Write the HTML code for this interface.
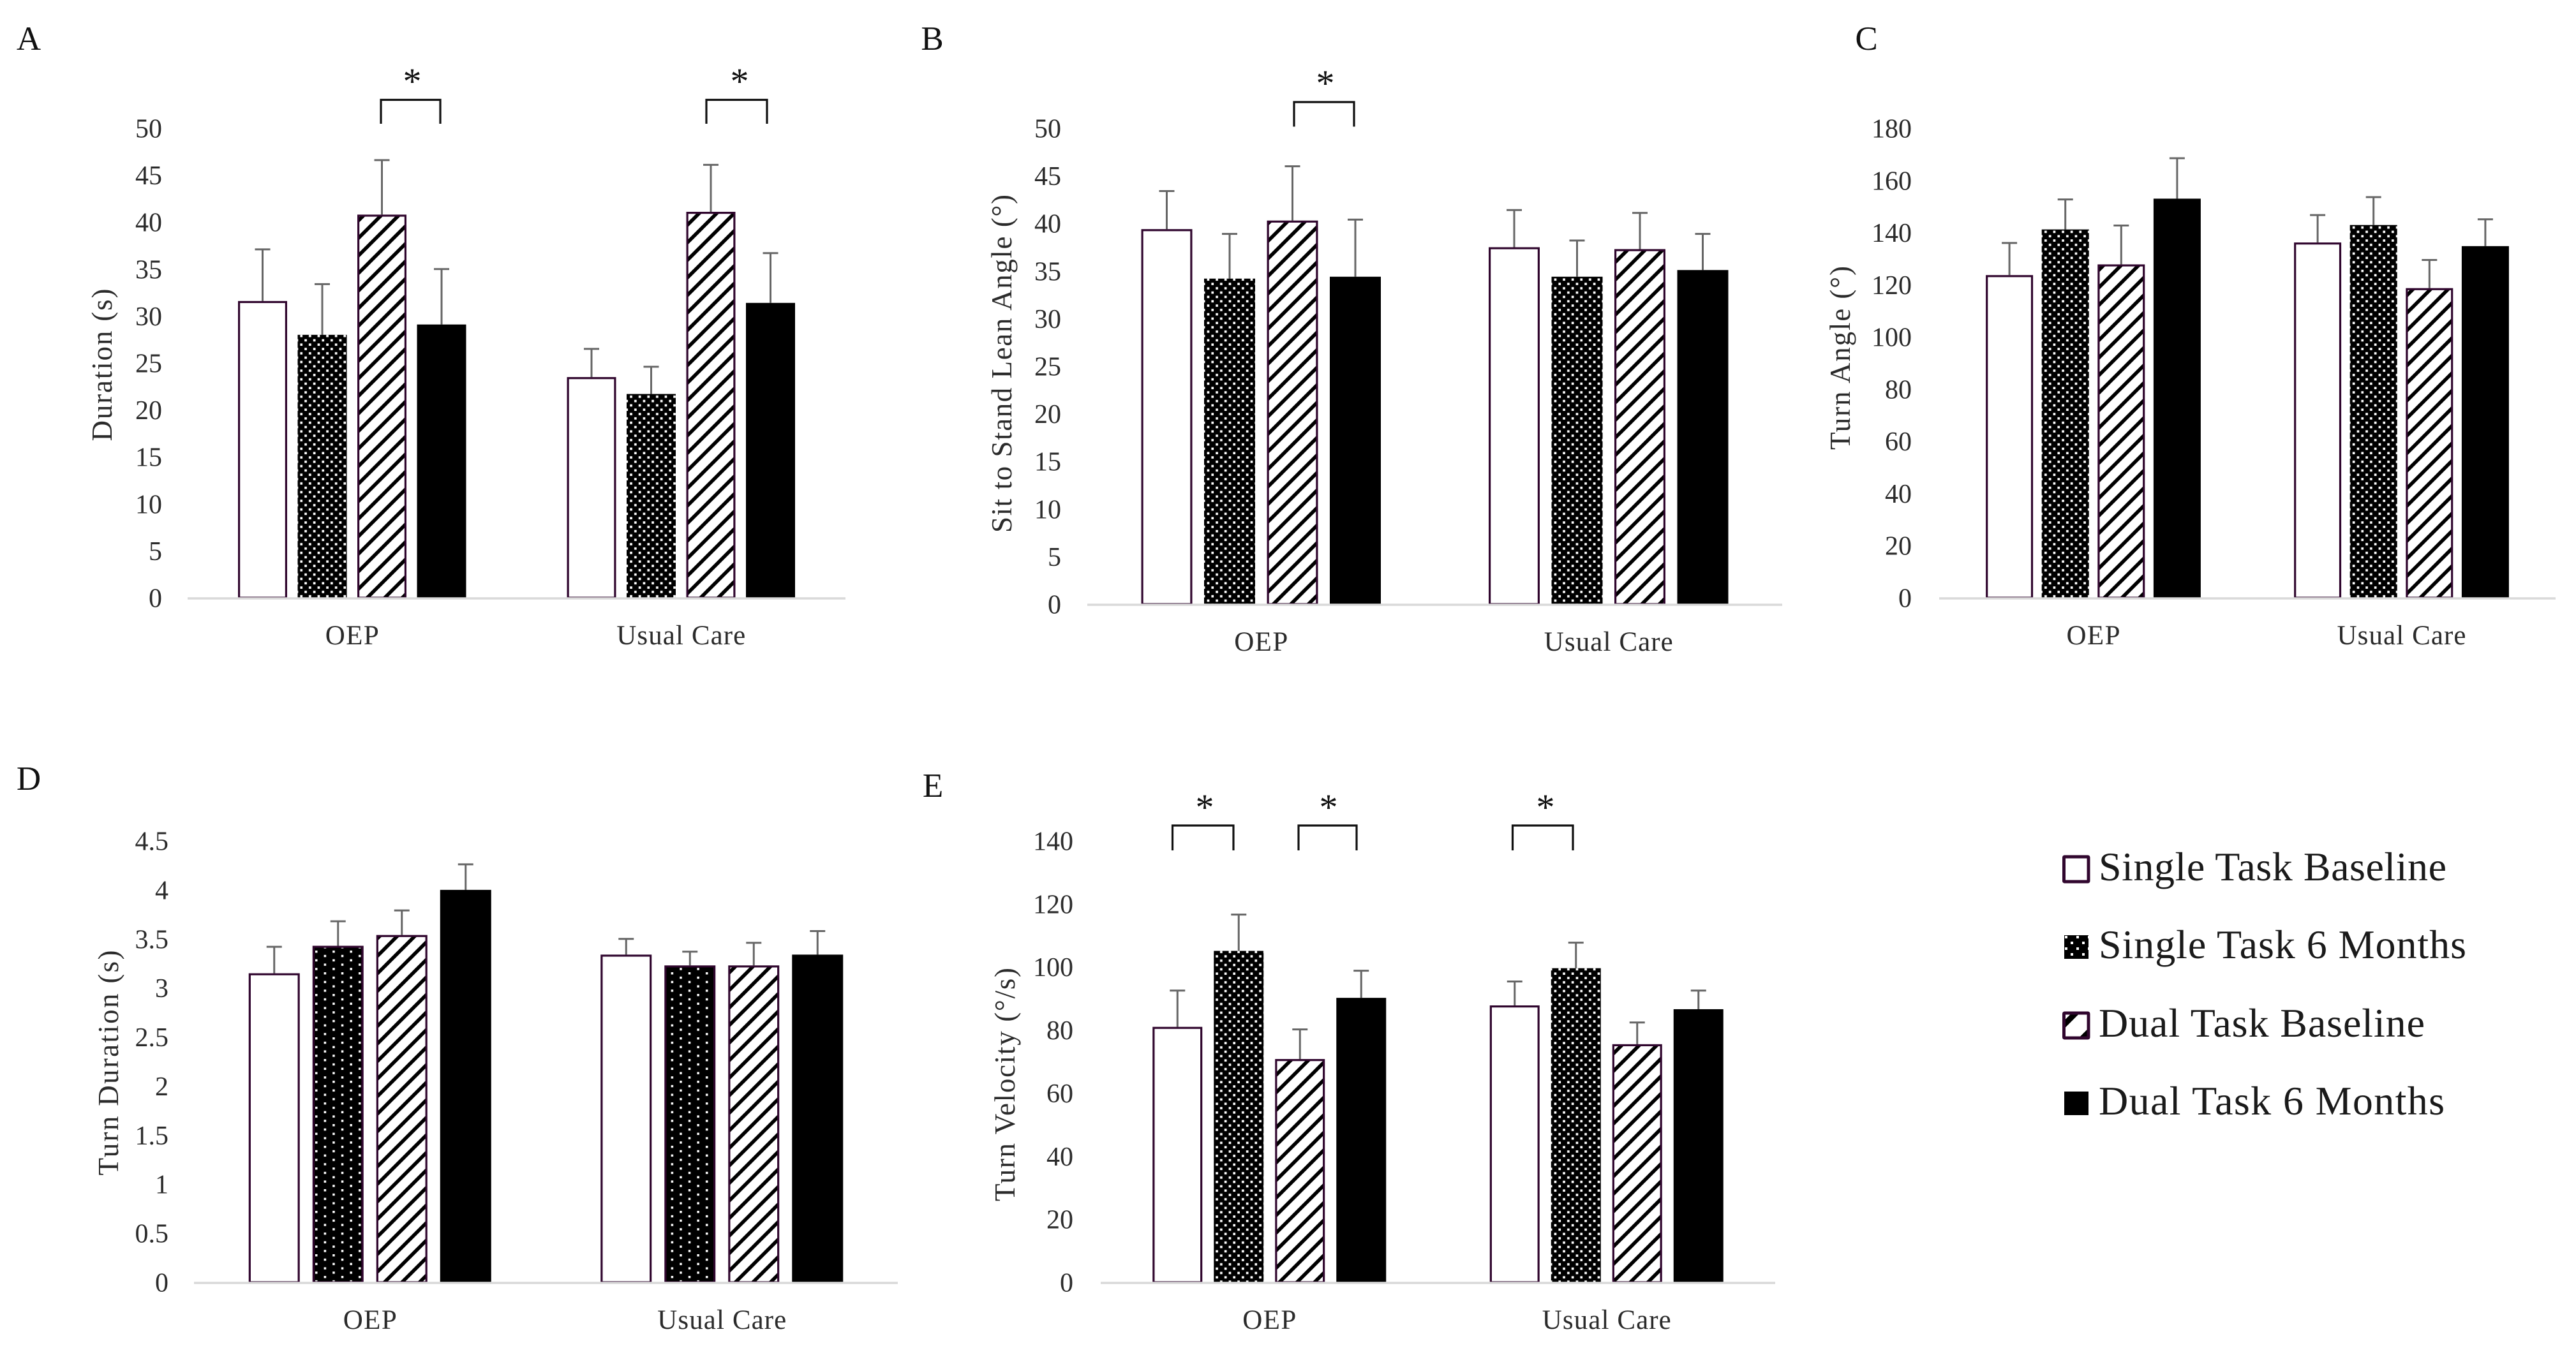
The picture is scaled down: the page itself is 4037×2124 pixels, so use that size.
<!DOCTYPE html>
<html lang="en">
<head>
<meta charset="utf-8">
<title>Single and dual task outcomes: OEP vs Usual Care</title>
<style>
html,body{margin:0;padding:0;background:#fff;}
body{width:4037px;height:2124px;overflow:hidden;}
svg{display:block;}
text{font-family:"Liberation Serif",serif;}
</style>
</head>
<body>
<svg id="figure" xmlns="http://www.w3.org/2000/svg" width="4037" height="2124" viewBox="0 0 4037 2124">
  <defs>
    <pattern id="dots" patternUnits="userSpaceOnUse" width="13.6" height="13.6">
      <rect width="13.6" height="13.6" fill="#000"/>
      <rect x="1.2" y="1.2" width="3.7" height="3.7" fill="#fff"/>
      <rect x="8" y="8" width="3.7" height="3.7" fill="#fff"/>
    </pattern>
    <pattern id="sparseDots" patternUnits="userSpaceOnUse" width="27.2" height="13.6" x="494" y="1490">
      <rect width="27.2" height="13.6" fill="#000"/>
      <rect x="0" y="0" width="3.5" height="3.5" fill="#fff"/>
      <rect x="13.6" y="6.8" width="3.5" height="3.5" fill="#fff"/>
    </pattern>
    <pattern id="hatch" patternUnits="userSpaceOnUse" width="27.5" height="27.5">
      <rect width="27.5" height="27.5" fill="#fff"/>
      <path d="M-7 34.5L34.5 -7M-7 7L7 -7M20.5 34.5L34.5 20.5" stroke="#000" stroke-width="5.6" fill="none"/>
    </pattern>
    <pattern id="legendDots" patternUnits="userSpaceOnUse" width="18" height="18" x="3235" y="1466">
      <rect width="18" height="18" fill="#000"/>
      <rect x="1" y="1" width="4" height="4" fill="#fff"/>
      <rect x="10" y="10" width="4" height="4" fill="#fff"/>
    </pattern>
    <pattern id="legendHatch" patternUnits="userSpaceOnUse" width="40" height="40" x="3234" y="1587">
      <rect width="40" height="40" fill="#fff"/>
      <path d="M-5 25L25 -5M25 45L45 25" stroke="#000" stroke-width="9" fill="none"/>
    </pattern>
  </defs>
</svg>
<script>
const categories = ['OEP', 'Usual Care'];
const seriesNames = ['Single Task Baseline', 'Single Task 6 Months', 'Dual Task Baseline', 'Dual Task 6 Months'];

const durationMeans = [31.6, 28.0, 40.8, 29.1, 23.5, 21.7, 41.1, 31.4];
const durationErrors = [5.5, 5.4, 5.8, 5.9, 3.0, 2.9, 5.0, 5.3];
const durationTicks = ['0', '5', '10', '15', '20', '25', '30', '35', '40', '45', '50'];

const leanMeans = [39.4, 34.2, 40.3, 34.4, 37.5, 34.4, 37.3, 35.1];
const leanErrors = [4.0, 4.7, 5.7, 6.0, 3.9, 3.8, 3.8, 3.8];
const leanTicks = ['0', '5', '10', '15', '20', '25', '30', '35', '40', '45', '50'];

const turnAngleMeans = [123.7, 141.2, 127.8, 153.0, 136.2, 142.9, 118.7, 134.8];
const turnAngleErrors = [12.3, 11.5, 14.9, 15.5, 10.5, 10.7, 10.8, 10.3];
const turnAngleTicks = ['0', '20', '40', '60', '80', '100', '120', '140', '160', '180'];

const turnDurationMeans = [3.15, 3.43, 3.54, 4.0, 3.34, 3.23, 3.23, 3.34];
const turnDurationErrors = [0.27, 0.25, 0.25, 0.26, 0.16, 0.14, 0.23, 0.24];
const turnDurationTicks = ['0', '0.5', '1', '1.5', '2', '2.5', '3', '3.5', '4', '4.5'];

const velocityMeans = [81.0, 105.1, 70.8, 90.2, 87.8, 99.6, 75.5, 86.6];
const velocityErrors = [11.5, 11.5, 9.4, 8.6, 7.6, 8.1, 6.9, 5.9];
const velocityTicks = ['0', '20', '40', '60', '80', '100', '120', '140'];

const SVG_NS = 'http://www.w3.org/2000/svg';
const figure = document.getElementById('figure');
const BAR_STROKE = '#30062e';
const TEXT_COLOR = '#2b2b2b';

function attrs(el, map) {
  Object.keys(map).forEach(function (k) { el.setAttribute(k, map[k]); });
  return el;
}
function makeYScale(layout, ticks) {
  const max = parseFloat(ticks[ticks.length - 1]);
  return function (v) { return layout.base - v * (layout.base - layout.top) / max; };
}
function makeXScale(layout) {
  const groupWidth = (layout.right - layout.left) / categories.length;
  return function (group, series) {
    const centre = layout.left + groupWidth * (group + 0.5);
    return series === undefined ? centre : centre + (series - 1.5) * layout.step;
  };
}
function drawBar(parent, cx, topY, base, width, seriesIdx, sparse) {
  const rect = document.createElementNS(SVG_NS, 'rect');
  
  
  const stroked = seriesIdx === 0 || seriesIdx === 2 || (seriesIdx === 1 && sparse);
  if (stroked) {
    const fill = seriesIdx === 0 ? '#fff' : (seriesIdx === 2 ? 'url(#hatch)' : 'url(#sparseDots)');
    attrs(rect, {x: cx - width / 2 + 1.6, y: topY + 1.6, width: width - 3.2, height: base - topY - 1.6,
      fill: fill, stroke: BAR_STROKE, 'stroke-width': 3.2});
  } else {
    attrs(rect, {x: cx - width / 2, y: topY, width: width, height: base - topY,
      fill: seriesIdx === 1 ? 'url(#dots)' : '#000'});
  }
  parent.appendChild(rect);
}
function drawError(parent, cx, fromY, toY) {
  const stem = document.createElementNS(SVG_NS, 'line');
  
  
  attrs(stem, {x1: cx, x2: cx, y1: fromY, y2: toY, stroke: '#666', 'stroke-width': 3});
  parent.appendChild(stem);
  const cap = document.createElementNS(SVG_NS, 'line');
  
  
  attrs(cap, {x1: cx - 12, x2: cx + 12, y1: toY, y2: toY, stroke: '#666', 'stroke-width': 3});
  parent.appendChild(cap);
}
function drawBracket(parent, b) {
  const path = document.createElementNS(SVG_NS, 'path');
  
  
  attrs(path, {d: 'M' + b.x1 + ' ' + b.bottom + 'V' + b.top + 'H' + b.x2 + 'V' + b.bottom,
    fill: 'none', stroke: '#111', 'stroke-width': 3.2});
  parent.appendChild(path);
  const star = document.createElementNS(SVG_NS, 'text');
  
  
  attrs(star, {x: b.starX, y: b.starY + 26, 'font-size': 58, 'text-anchor': 'middle', fill: '#111'});
  star.textContent = '*';
  parent.appendChild(star);
}
function drawPanel(p) {
  const g = document.createElementNS(SVG_NS, 'g');
  
  
  figure.appendChild(g);

  const y = makeYScale(p.layout, p.ticks);
  const x = makeXScale(p.layout);

  const letter = document.createElementNS(SVG_NS, 'text');
  
  
  attrs(letter, {x: p.letterX, y: p.letterY + 18, 'font-size': 53, 'text-anchor': 'middle', fill: '#111'});
  letter.textContent = p.letter;
  g.appendChild(letter);

  const title = document.createElementNS(SVG_NS, 'text');
  
  
  attrs(title, {transform: 'translate(' + (p.titleX + 14) + ' ' + p.titleY + ') rotate(-90)',
    'font-size': 45, 'text-anchor': 'middle', fill: TEXT_COLOR, textLength: p.titleLen, lengthAdjust: 'spacing'});
  title.textContent = p.title;
  g.appendChild(title);

  p.ticks.forEach(function (t) {
    const tick = document.createElementNS(SVG_NS, 'text');
    
    
    attrs(tick, {x: p.tickX, y: y(parseFloat(t)) + 14.5, 'font-size': 42, 'text-anchor': 'end', fill: TEXT_COLOR});
    tick.textContent = t;
    g.appendChild(tick);
  });

  categories.forEach(function (name, gi) {
    seriesNames.forEach(function (s, si) {
      const idx = gi * seriesNames.length + si;
      const cx = x(gi, si);
      const topY = y(p.means[idx]);
      drawError(g, cx, topY, y(p.means[idx] + p.errors[idx]));
      drawBar(g, cx, topY, p.layout.base, p.layout.barWidth, si, p.sparseDots);
    });
    const cat = document.createElementNS(SVG_NS, 'text');
    
    
    attrs(cat, {x: x(gi), y: p.layout.base + 73, 'font-size': 43, 'text-anchor': 'middle', fill: TEXT_COLOR,
      textLength: gi === 0 ? 84 : 202, lengthAdjust: 'spacing'});
    cat.textContent = name;
    g.appendChild(cat);
  });

  const axis = document.createElementNS(SVG_NS, 'line');
  
  
  attrs(axis, {x1: p.layout.left, x2: p.layout.right, y1: p.layout.base + 1, y2: p.layout.base + 1,
    stroke: '#d9d9d9', 'stroke-width': 3.5});
  g.appendChild(axis);

  p.brackets.forEach(function (b) { drawBracket(g, b); });
}

drawPanel({
  letter: 'A', letterX: 45, letterY: 60,
  title: 'Duration (s)', titleX: 161, titleY: 572, titleLen: 239, tickX: 254,
  means: durationMeans, errors: durationErrors, ticks: durationTicks,
  layout: {left: 294, right: 1325, top: 201, base: 937, step: 93.5, barWidth: 77},
  brackets: [
    {x1: 597, x2: 690, top: 156.5, bottom: 194, starX: 646, starY: 121},
    {x1: 1107, x2: 1202, top: 156.5, bottom: 194, starX: 1159, starY: 121}
  ]
});
drawPanel({
  letter: 'B', letterX: 1461, letterY: 60,
  title: 'Sit to Stand Lean Angle (°)', titleX: 1571, titleY: 570, titleLen: 530, tickX: 1663,
  means: leanMeans, errors: leanErrors, ticks: leanTicks,
  layout: {left: 1704, right: 2793, top: 201, base: 947, step: 98.5, barWidth: 80},
  brackets: [
    {x1: 2028, x2: 2122, top: 160, bottom: 198.5, starX: 2077, starY: 124}
  ]
});
drawPanel({
  letter: 'C', letterX: 2925, letterY: 60,
  title: 'Turn Angle (°)', titleX: 2885, titleY: 561, titleLen: 288, tickX: 2996,
  means: turnAngleMeans, errors: turnAngleErrors, ticks: turnAngleTicks,
  layout: {left: 3039, right: 4005, top: 201, base: 937, step: 87.6, barWidth: 74},
  brackets: []
});
drawPanel({
  letter: 'D', letterX: 45, letterY: 1220,
  title: 'Turn Duration (s)', titleX: 171, titleY: 1666, titleLen: 353, tickX: 264,
  means: turnDurationMeans, errors: turnDurationErrors, ticks: turnDurationTicks, sparseDots: true,
  layout: {left: 304, right: 1407, top: 1318, base: 2010, step: 100, barWidth: 80},
  brackets: []
});
drawPanel({
  letter: 'E', letterX: 1462, letterY: 1231,
  title: 'Turn Velocity (°/s)', titleX: 1576, titleY: 1700, titleLen: 366, tickX: 1682,
  means: velocityMeans, errors: velocityErrors, ticks: velocityTicks,
  layout: {left: 1725, right: 2782, top: 1318, base: 2010, step: 96, barWidth: 78},
  brackets: [
    {x1: 1837.5, x2: 1933, top: 1294, bottom: 1333, starX: 1888, starY: 1259},
    {x1: 2035, x2: 2126, top: 1294, bottom: 1333, starX: 2082, starY: 1259},
    {x1: 2370.5, x2: 2465, top: 1294, bottom: 1333, starX: 2422, starY: 1259}
  ]
});

const legendBaselines = [1380, 1502, 1625, 1747];
const legendWidths = [545, 576, 511, 542];
const legendGroup = document.createElementNS(SVG_NS, 'g');


figure.appendChild(legendGroup);
seriesNames.forEach(function (name, i) {
  const swatch = document.createElementNS(SVG_NS, 'rect');
  
  
  const b = legendBaselines[i];
  if (i === 0 || i === 2) {
    attrs(swatch, {x: 3234.5, y: b - 37, width: 38.5, height: 39,
      fill: i === 0 ? '#fff' : 'url(#legendHatch)', stroke: BAR_STROKE, 'stroke-width': 5, rx: 1});
  } else {
    attrs(swatch, {x: 3235, y: b - 36, width: 38, height: 37,
      fill: i === 1 ? 'url(#legendDots)' : '#000'});
  }
  legendGroup.appendChild(swatch);
  const label = document.createElementNS(SVG_NS, 'text');
  
  
  attrs(label, {x: 3289, y: b, 'font-size': 64, fill: '#1a1a1a',
    textLength: legendWidths[i], lengthAdjust: 'spacing'});
  label.textContent = name;
  legendGroup.appendChild(label);
});
</script>
</body>
</html>
